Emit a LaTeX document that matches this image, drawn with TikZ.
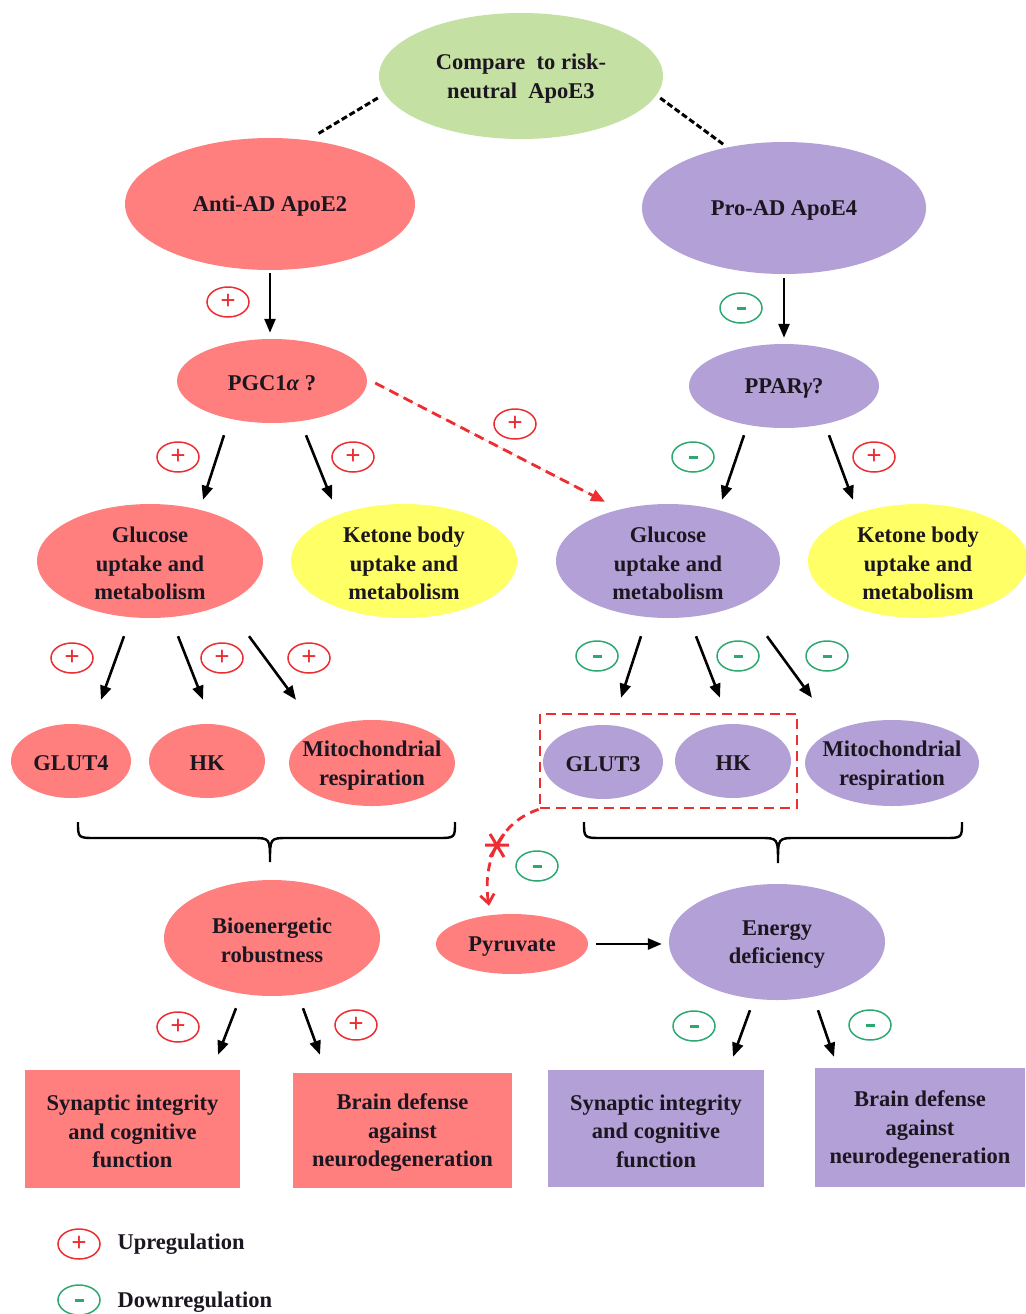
\documentclass[tikz,border=0pt]{standalone}
\usepackage{fontspec}
\setmainfont{Liberation Serif}
\usetikzlibrary{shapes.geometric,arrows.meta,calc}
\definecolor{salmon}{RGB}{255,127,127}
\definecolor{lav}{RGB}{178,160,214}
\definecolor{lgreen}{RGB}{197,224,163}
\definecolor{yel}{RGB}{255,255,102}
\definecolor{txt}{RGB}{28,22,32}
\definecolor{upred}{RGB}{236,45,50}
\definecolor{dngreen}{RGB}{45,168,112}
\begin{document}
\begin{tikzpicture}[x=1pt,y=-1pt,
  every node/.style={font=\fontsize{22.5}{28.5}\selectfont\bfseries, text=txt, align=center},
  lbl/.style={yshift=-2.5pt},
  ell/.style={ellipse, inner sep=0pt, draw=none},
  sbox/.style={rectangle, inner sep=0pt, draw=none},
  arr/.style={line width=2.6pt, -{Triangle[length=14pt,width=11pt]}},
  dashline/.style={line width=3pt, dash pattern=on 6pt off 3pt},
  reddash/.style={draw=upred, line width=2.8pt, dash pattern=on 10pt off 6pt},
  up/.style={ellipse, draw=upred, line width=1.5pt, minimum width=42pt, minimum height=30pt, inner sep=0pt, text=upred, font=\fontsize{27}{27}\selectfont\bfseries},
  dn/.style={ellipse, draw=dngreen, line width=1.5pt, minimum width=42pt, minimum height=30pt, inner sep=0pt, text=dngreen},
  brace/.style={line width=2.4pt}
]
\useasboundingbox (0,0) rectangle (1025,1314);

% ---- top
\node[ell, fill=lgreen, minimum width=284, minimum height=126] (apoe3) at (521,76) {};
\node[lbl] at (apoe3) {Compare\ \ to risk-\\neutral\ \ ApoE3};
\node[ell, fill=salmon, minimum width=290, minimum height=132] (apoe2) at (270,204) {};
\node[lbl] at (apoe2) {Anti-AD ApoE2};
\node[ell, fill=lav, minimum width=284, minimum height=132] (apoe4) at (784,208) {};
\node[lbl] at (apoe4) {Pro-AD ApoE4};
\draw[dashline] ($(apoe3.west)+(-1,22)$) -- ($(apoe2.north)+(48,-4)$);
\draw[dashline] ($(apoe3.east)+(-3,22)$) -- ($(apoe4.north)+(-60,3)$);

% ---- second level
\node[ell, fill=salmon, minimum width=190, minimum height=84] (pgc) at (272,381) {};
\node[lbl] at (pgc) {PGC1{\itshape α} ?};
\node[ell, fill=lav, minimum width=190, minimum height=84] (ppar) at (784,386) {};
\node[lbl] at (ppar) {PPAR{\itshape γ}?};
\draw[arr] ($(apoe2.south)+(0,3)$) -- ($(pgc.north)+(-2,-6)$);
\draw[arr] ($(apoe4.south)+(0,4)$) -- ($(ppar.north)+(0,-6)$);
\node[up] (u1) at (228,302) {+};
\node[dn] (d1) at (741,308) {\rule{9pt}{3pt}};

% ---- third level
\node[ell, fill=salmon, minimum width=226, minimum height=114] (glcL) at (150,561) {};
\node[lbl] at (glcL) {Glucose\\uptake and\\metabolism};
\node[ell, fill=yel, minimum width=226, minimum height=114] (ketL) at (404,561) {};
\node[lbl] at (ketL) {Ketone body\\uptake and\\metabolism};
\node[ell, fill=lav, minimum width=224, minimum height=114] (glcR) at (668,561) {};
\node[lbl] at (glcR) {Glucose\\uptake and\\metabolism};
\node[ell, fill=yel, minimum width=220, minimum height=114] (ketR) at (918,561) {};
\node[lbl] at (ketR) {Ketone body\\uptake and\\metabolism};

\draw[arr] ($(pgc.south)+(-48,12)$) -- ($(glcL.north)+(53,-4)$);
\draw[arr] ($(pgc.south)+(34,12)$) -- ($(ketL.north)+(-72,-4)$);
\draw[arr] ($(ppar.south)+(-40,7)$) -- ($(glcR.north)+(54,-4)$);
\draw[arr] ($(ppar.south)+(45,7)$) -- ($(ketR.north)+(-65,-4)$);
\draw[reddash, -{Triangle[length=14pt,width=12pt]}, fill=upred] ($(pgc.east)+(8,2)$) -- ($(glcR.north)+(-63,-2)$);
\node[up] (u2) at (515,424) {+};
\node[up] (u3) at (178,457) {+};
\node[up] (u4) at (353,457) {+};
\node[dn] (d2) at (693,457) {\rule{9pt}{3pt}};
\node[up] (u5) at (874,457) {+};

% ---- fourth level
\node[ell, fill=salmon, minimum width=120, minimum height=74] (glut4) at (71,761) {};
\node[lbl] at (glut4) {GLUT4};
\node[ell, fill=salmon, minimum width=116, minimum height=74] (hkL) at (207,761) {};
\node[lbl] at (hkL) {HK};
\node[ell, fill=salmon, minimum width=166, minimum height=86] (mitoL) at (372,763) {};
\node[lbl] at (mitoL) {Mitochondrial\\respiration};
\node[ell, fill=lav, minimum width=120, minimum height=74] (glut3) at (603,762) {};
\node[lbl] at (glut3) {GLUT3};
\node[ell, fill=lav, minimum width=116, minimum height=74] (hkR) at (733,761) {};
\node[lbl] at (hkR) {HK};
\node[ell, fill=lav, minimum width=174, minimum height=86] (mitoR) at (892,763) {};
\node[lbl] at (mitoR) {Mitochondrial\\respiration};

\draw[arr] ($(glcL.south)+(-26,18)$) -- ($(glut4.north)+(30,-24)$);
\draw[arr] ($(glcL.south)+(28,18)$) -- ($(hkL.north)+(-4,-24)$);
\draw[arr] ($(glcL.south)+(99,18)$) -- ($(mitoL.north)+(-76,-20)$);
\draw[arr] ($(glcR.south)+(-27,18)$) -- ($(glut3.north)+(18,-27)$);
\draw[arr] ($(glcR.south)+(28,18)$) -- ($(hkR.north)+(-13,-26)$);
\draw[arr] ($(glcR.south)+(99,18)$) -- ($(mitoR.north)+(-80,-22)$);
\node[up] (u6) at (72,658) {+};
\node[up] (u7) at (222,658) {+};
\node[up] (u8) at (309,658) {+};
\node[dn] (d3) at (597,656) {\rule{9pt}{3pt}};
\node[dn] (d4) at (738,656) {\rule{9pt}{3pt}};
\node[dn] (d5) at (827,656) {\rule{9pt}{3pt}};

% dashed box around GLUT3 and HK
\node[sbox, reddash, minimum width=257, minimum height=94] (box) at (668.5,761) {};

% ---- braces
\draw[brace] (78,822) .. controls (78,838) .. (96,838) -- (252,838) .. controls (270,838) .. (270,862)
  .. controls (270,838) .. (288,838) -- (437,838) .. controls (455,838) .. (455,822);
\draw[brace] (584,822) .. controls (584,838) .. (602,838) -- (760,838) .. controls (778,838) .. (778,863)
  .. controls (778,838) .. (796,838) -- (944,838) .. controls (962,838) .. (962,822);

% ---- fifth level
\node[ell, fill=salmon, minimum width=216, minimum height=116] (bio) at (272,938) {};
\node[lbl] at (bio) {Bioenergetic\\robustness};
\node[ell, fill=salmon, minimum width=152, minimum height=60] (pyr) at (512,944) {};
\node[lbl] at (pyr) {Pyruvate};
\node[ell, fill=lav, minimum width=216, minimum height=116] (energy) at (777,942) {};
\node[lbl] at (energy) {Energy\\deficiency};
\draw[line width=2.6pt, -{Triangle[length=14pt,width=11pt]}] ($(pyr.east)+(8,0)$) -- ($(pyr.east -| energy.west)+(-7,0)$);
\draw[reddash, dash pattern=on 9pt off 6pt, -{Straight Barb[length=9pt,width=14pt,line width=2.8pt]}]
  (box.south west) .. controls (500,822) and (482,862) .. ($(pyr.north)+(-23,-8)$);
\draw[upred, line width=3pt] (485,845) -- (509,845) (490,834) -- (504,857) (504,834) -- (490,857);
\node[dn] (d6) at (537,866) {\rule{9pt}{3pt}};

% ---- bottom
\node[sbox, fill=salmon, minimum width=215, minimum height=118] (synL) at (132.5,1129) {};
\node[lbl] at (synL) {Synaptic integrity\\and cognitive\\function};
\node[sbox, fill=salmon, minimum width=219, minimum height=115] (brainL) at (402.5,1130.5) {};
\node[lbl] at (brainL) {Brain defense\\against\\neurodegeneration};
\node[sbox, fill=lav, minimum width=216, minimum height=117] (synR) at (656,1128.5) {};
\node[lbl] at (synR) {Synaptic integrity\\and cognitive\\function};
\node[sbox, fill=lav, minimum width=210, minimum height=119] (brainR) at (920,1127.5) {};
\node[lbl] at (brainR) {Brain defense\\against\\neurodegeneration};

\draw[arr] ($(bio.south)+(-36,12)$) -- ($(synL.north)+(85.5,-15)$);
\draw[arr] ($(bio.south)+(31,12)$) -- ($(brainL.north)+(-82.5,-18)$);
\draw[arr] ($(energy.south)+(-27,10)$) -- ($(synR.north)+(77,-13)$);
\draw[arr] ($(energy.south)+(41,10)$) -- ($(brainR.north)+(-86,-11)$);
\node[up] (u9) at (178,1027) {+};
\node[up] (u10) at (356,1025) {+};
\node[dn] (d7) at (694,1026) {\rule{9pt}{3pt}};
\node[dn] (d8) at (870,1025) {\rule{9pt}{3pt}};

% ---- legend
\node[up] (lu) at (79,1244) {+};
\node[anchor=west, lbl] (lut) at (114,1242) {Upregulation};
\node[dn] (ld) at (79,1300) {\rule{9pt}{3pt}};
\node[anchor=west, lbl] (ldt) at (114,1300) {Downregulation};
\end{tikzpicture}
\end{document}
